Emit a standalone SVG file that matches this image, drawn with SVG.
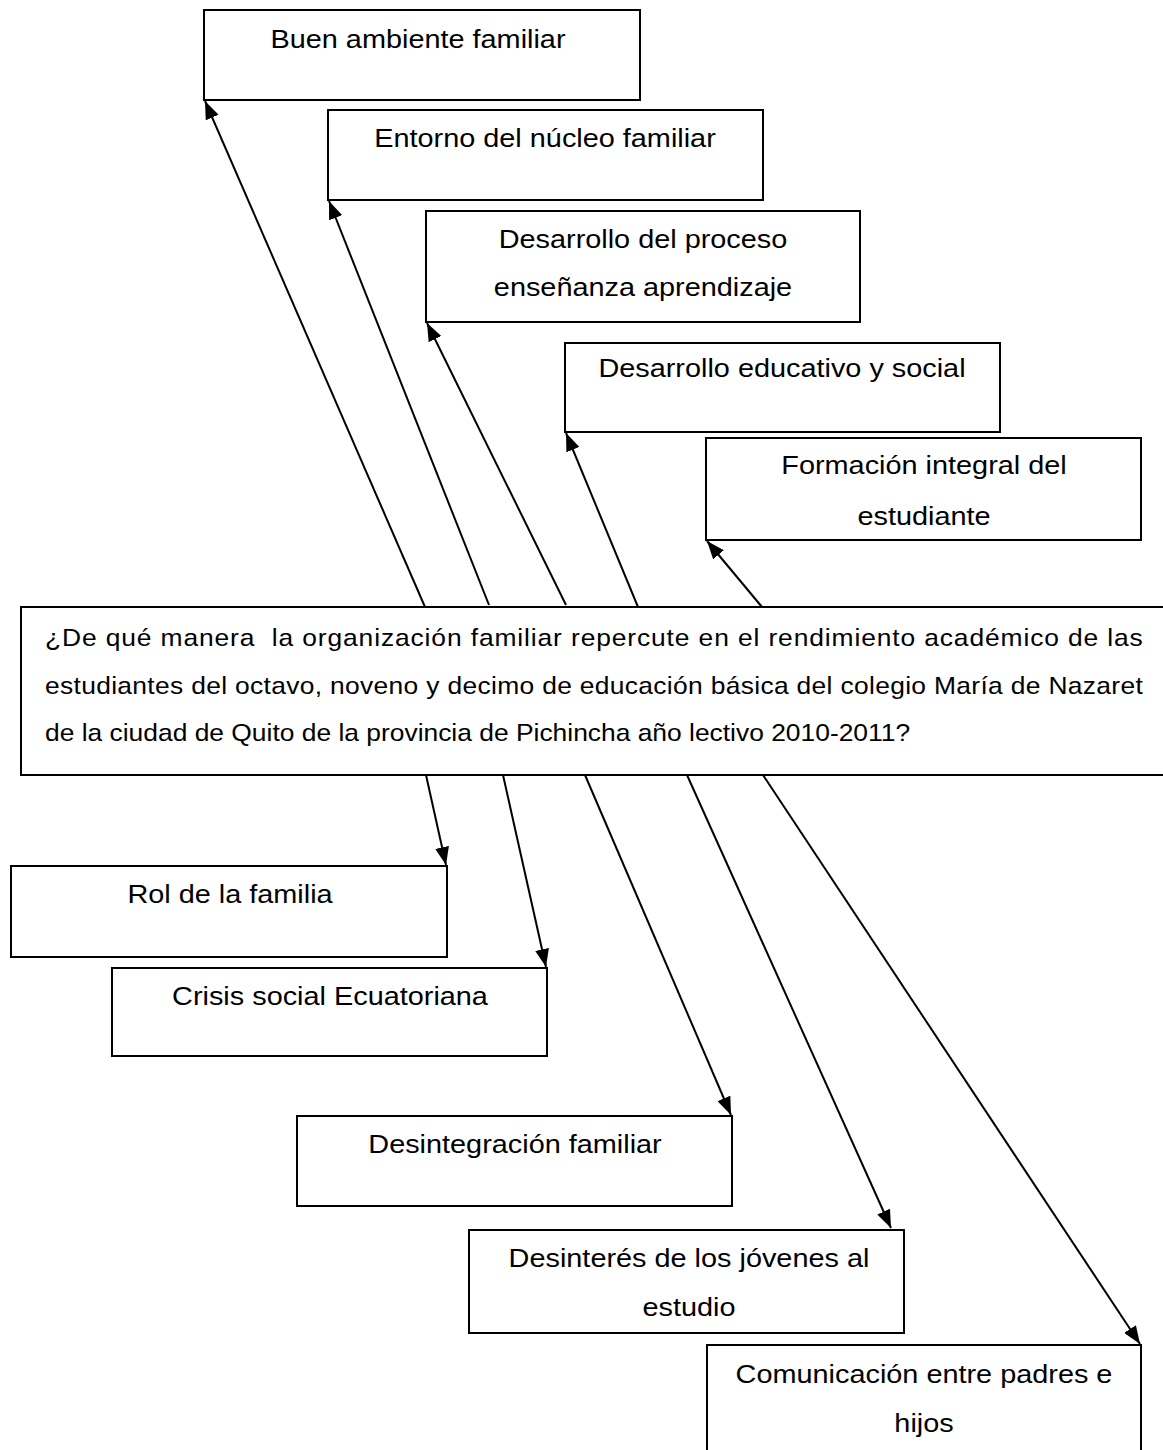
<svg xmlns="http://www.w3.org/2000/svg" width="1163" height="1450" viewBox="0 0 1163 1450">
<style>
rect.box{fill:#fff;stroke:#000;stroke-width:2}
text{font-family:"Liberation Sans",Arial,sans-serif;font-size:26px;fill:#000}
text.c{text-anchor:middle}
text.m{font-size:24px}
.conn line{stroke:#000;stroke-width:2}
</style>
<defs>
<marker id="ah" viewBox="0 0 18 14" refX="18" refY="7" markerWidth="18" markerHeight="14" markerUnits="userSpaceOnUse" orient="auto">
<path d="M0,0 L18,7 L0,14 z" fill="#000"/>
</marker>
</defs>
<rect width="1163" height="1450" fill="#fff"/>
<g id="n1"><rect class="box" x="204" y="10" width="436" height="90"/><text class="c" transform="translate(418,48) scale(1.11,1)">Buen ambiente familiar</text></g>
<g id="n2"><rect class="box" x="328" y="110" width="435" height="90"/><text class="c" transform="translate(545,147) scale(1.11,1)">Entorno del núcleo familiar</text></g>
<g id="n3"><rect class="box" x="426" y="211" width="434" height="111"/><text class="c" transform="translate(643,248) scale(1.11,1)">Desarrollo del proceso</text><text class="c" transform="translate(643,296) scale(1.11,1)">enseñanza aprendizaje</text></g>
<g id="n4"><rect class="box" x="565" y="343" width="435" height="89"/><text class="c" transform="translate(782,377) scale(1.11,1)">Desarrollo educativo y social</text></g>
<g id="n5"><rect class="box" x="706" y="438" width="435" height="102"/><text class="c" transform="translate(924,474) scale(1.11,1)">Formación integral del</text><text class="c" transform="translate(924,525) scale(1.11,1)">estudiante</text></g>
<g id="main"><rect class="box" x="21" y="607" width="1150" height="168"/>
<text class="m" transform="translate(45,646) scale(1.1,1)" textLength="998" lengthAdjust="spacing" xml:space="preserve">¿De qué manera  la organización familiar repercute en el rendimiento académico de las</text>
<text class="m" transform="translate(45,693.5) scale(1.1,1)" textLength="998" lengthAdjust="spacing">estudiantes del octavo, noveno y decimo de educación básica del colegio María de Nazaret</text>
<text class="m" transform="translate(45,741) scale(1.1,1)">de la ciudad de Quito de la provincia de Pichincha año lectivo 2010-2011?</text></g>
<g id="n6"><rect class="box" x="11" y="866" width="436" height="91"/><text class="c" transform="translate(230,903) scale(1.11,1)">Rol de la familia</text></g>
<g id="n7"><rect class="box" x="112" y="968" width="435" height="88"/><text class="c" transform="translate(330,1005) scale(1.11,1)">Crisis social Ecuatoriana</text></g>
<g id="n8"><rect class="box" x="297" y="1116" width="435" height="90"/><text class="c" transform="translate(515,1153) scale(1.11,1)">Desintegración familiar</text></g>
<g id="n9"><rect class="box" x="469" y="1230" width="435" height="103"/><text class="c" transform="translate(689,1267) scale(1.11,1)">Desinterés de los jóvenes al</text><text class="c" transform="translate(689,1316) scale(1.11,1)">estudio</text></g>
<g id="n10"><rect class="box" x="707" y="1345" width="434" height="120"/><text class="c" transform="translate(924,1383) scale(1.11,1)">Comunicación entre padres e</text><text class="c" transform="translate(924,1432) scale(1.11,1)">hijos</text></g>
<g id="connectors" class="conn">
<line x1="425" y1="607" x2="205" y2="101" marker-end="url(#ah)"/>
<line x1="489" y1="605" x2="329" y2="201" marker-end="url(#ah)"/>
<line x1="566" y1="605" x2="427" y2="323" marker-end="url(#ah)"/>
<line x1="638" y1="607" x2="566" y2="433" marker-end="url(#ah)"/>
<line x1="762" y1="607" x2="707" y2="541" marker-end="url(#ah)"/>
<line x1="426" y1="775" x2="446" y2="865" marker-end="url(#ah)"/>
<line x1="503" y1="775" x2="546" y2="967" marker-end="url(#ah)"/>
<line x1="585" y1="775" x2="731" y2="1115" marker-end="url(#ah)"/>
<line x1="687" y1="775" x2="891" y2="1228" marker-end="url(#ah)"/>
<line x1="763" y1="775" x2="1140" y2="1344" marker-end="url(#ah)"/>
</g>
</svg>
